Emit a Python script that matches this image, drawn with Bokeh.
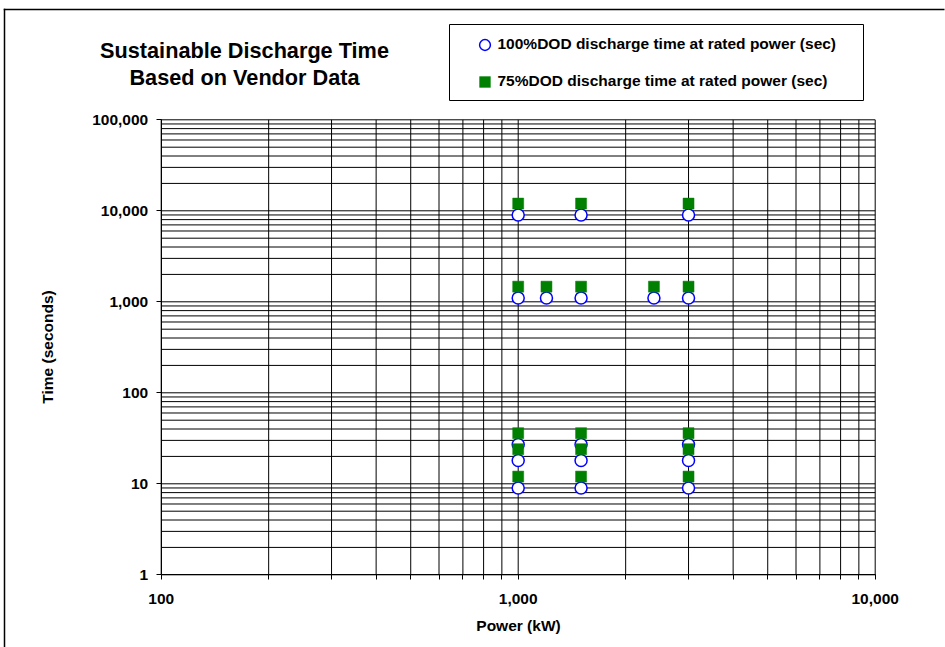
import math
from bokeh.plotting import figure
from bokeh.models import (Range1d, FixedTicker, NumeralTickFormatter, Label,
                          BoxAnnotation, Legend, LegendItem, ColumnDataSource)
from bokeh.embed import file_html
from bokeh.resources import INLINE

# ---- data ----
power_100 = [1000, 1000, 1000, 1000, 1000, 1200, 1500, 1500, 1500, 1500, 1500, 2400, 3000, 3000, 3000, 3000, 3000]
time_100 = [9, 18, 27, 1100, 9000, 1100, 9, 18, 27, 1100, 9000, 1100, 9, 18, 27, 1100, 9000]
power_75 = [1000, 1000, 1000, 1000, 1000, 1200, 1500, 1500, 1500, 1500, 1500, 2400, 3000, 3000, 3000, 3000, 3000]
time_75 = [12, 24, 36, 1467, 12000, 1467, 12, 24, 36, 1467, 12000, 1467, 12, 24, 36, 1467, 12000]

x_major = [100, 1000, 10000]
y_major = [1, 10, 100, 1000, 10000, 100000]
x_minor = [m * d for d in [100, 1000] for m in range(2, 10)]
y_minor = [m * d for d in [1, 10, 100, 1000, 10000] for m in range(2, 10)]

series_100_label = "100%DOD discharge time at rated power (sec)"
series_75_label = "75%DOD discharge time at rated power (sec)"
title_lines = ["Sustainable Discharge Time", "Based on Vendor Data"]
x_label = "Power (kW)"
y_label = "Time (seconds)"

FONT = "Liberation Sans"

# ---- layout geometry (pixels) ----
W, H = 945, 647
PL, PR, PT, PB = 160.7, 874.7, 119.3, 574.3   # plot-area edges on the canvas
xmin, xmax = x_major[0], x_major[-1]
ymin, ymax = y_major[0], y_major[-1]
xdec = (PR - PL) / (math.log10(xmax) - math.log10(xmin))
ydec = (PB - PT) / (math.log10(ymax) - math.log10(ymin))
x_lo = 10 ** (math.log10(xmin) - PL / xdec)
x_hi = 10 ** (math.log10(xmax) + (W - PR) / xdec)
y_lo = 10 ** (math.log10(ymin) - (H - PB) / ydec)
y_hi = 10 ** (math.log10(ymax) + PT / ydec)

p = figure(width=W, height=H, x_axis_type="log", y_axis_type="log",
           x_range=Range1d(x_lo, x_hi), y_range=Range1d(y_lo, y_hi),
           output_backend="svg", toolbar_location=None,
           min_border_left=0, min_border_right=0, min_border_top=0, min_border_bottom=0)
p.background_fill_color = "white"
p.border_fill_color = "white"
p.outline_line_color = None
p.xgrid.visible = False
p.ygrid.visible = False

# ---- axes, pinned to the plot-area edges ----
p.xaxis.ticker = FixedTicker(ticks=x_major, minor_ticks=x_minor)
p.yaxis.ticker = FixedTicker(ticks=y_major, minor_ticks=y_minor)
p.xaxis.fixed_location = ymin
p.yaxis.fixed_location = xmin
p.xaxis.bounds = (xmin, xmax)
p.yaxis.bounds = (ymin, ymax)
for ax in (p.xaxis[0], p.yaxis[0]):
    ax.formatter = NumeralTickFormatter(format="0,0")
    ax.axis_line_color = "black"
    ax.major_tick_line_color = "black"
    ax.minor_tick_line_color = "black"
    ax.major_tick_in = 0
    ax.major_tick_out = 5
    ax.minor_tick_in = 0
    ax.major_label_text_font = FONT
    ax.major_label_text_font_style = "bold"
    ax.major_label_text_font_size = "15.5px"
    ax.major_label_text_color = "black"
    ax.axis_label_text_font = FONT
    ax.axis_label_text_font_style = "bold"
    ax.axis_label_text_font_size = "15.5px"
    ax.axis_label_text_color = "black"
p.xaxis.minor_tick_out = 5
p.yaxis.minor_tick_out = 0
p.xaxis.major_label_standoff = 14
p.yaxis.major_label_standoff = 8
p.xaxis.axis_label = x_label
p.yaxis.axis_label = y_label
p.xaxis.axis_label_standoff = 10
p.yaxis.axis_label_standoff = 33

# ---- grid lines limited to the plot area ----
vx = x_major + x_minor
p.segment(x0=vx, y0=[ymin] * len(vx), x1=vx, y1=[ymax] * len(vx),
          line_color="black", line_width=1)
hy = y_major + y_minor
p.segment(x0=[xmin] * len(hy), y0=hy, x1=[xmax] * len(hy), y1=hy,
          line_color="black", line_width=1)

# ---- data ----
src100 = ColumnDataSource(dict(x=power_100, y=time_100))
src75 = ColumnDataSource(dict(x=power_75, y=time_75))
r100 = p.scatter("x", "y", source=src100, marker="circle", size=12,
                 fill_color="white", line_color="#0000FF", line_width=1.5)
r75 = p.scatter("x", "y", source=src75, marker="square", size=11,
                fill_color="#008000", line_color="#008000", line_width=0.5)

# ---- outer chart border (left and top edges only; the rest lies off-page) ----
def screen_box(l, r, t, b, **kw):
    return BoxAnnotation(left=l, right=r, top=t, bottom=b,
                         left_units="screen", right_units="screen",
                         top_units="screen", bottom_units="screen", **kw)

p.add_layout(screen_box(3.25, 4.75, H - 8.25, 0,
                        fill_color="black", fill_alpha=1, line_alpha=0))
p.add_layout(screen_box(3.25, W - 1, H - 8.25, H - 9.75,
                        fill_color="black", fill_alpha=1, line_alpha=0))

# ---- title ----
for txt, base in zip(title_lines, [50, 77]):
    p.add_layout(Label(x=244, y=H - base, x_units="screen", y_units="screen",
                       text=txt, text_align="center", text_baseline="alphabetic",
                       text_font=FONT, text_font_style="bold", text_font_size="21.7px",
                       text_color="black"))

# ---- legend ----
p.add_layout(screen_box(449, 863, H - 24, H - 100,
                        fill_color="white", fill_alpha=1,
                        line_color="black", line_alpha=1, line_width=1))

legend = Legend(items=[LegendItem(label=series_100_label, renderers=[r100]),
                       LegendItem(label=series_75_label, renderers=[r75])],
                location=(484 - 13.5, H - 94.5),
                orientation="vertical", padding=0, margin=0, spacing=10,
                glyph_width=27, glyph_height=27, label_height=20, label_standoff=0,
                border_line_alpha=0, background_fill_alpha=0,
                label_text_font=FONT, label_text_font_style="bold",
                label_text_font_size="15.5px", label_text_color="black")
p.add_layout(legend, "center")

open("out.html", "w").write(file_html(p, INLINE))
